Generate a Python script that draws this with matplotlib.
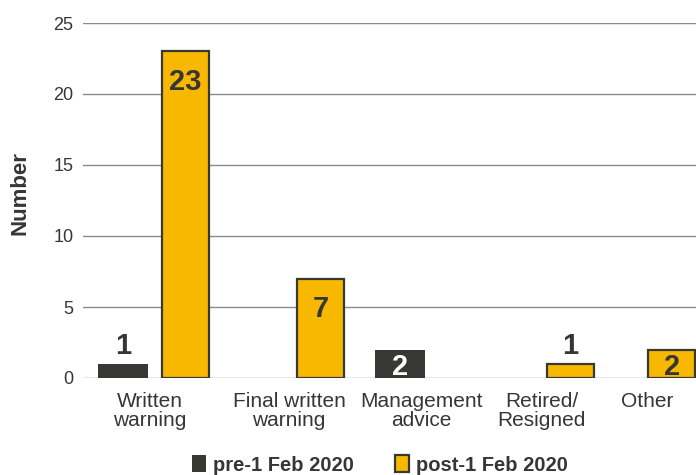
import matplotlib
matplotlib.use("Agg")
import matplotlib.pyplot as plt
from matplotlib.patches import Patch
from matplotlib import transforms

categories = ["Written\nwarning", "Final written\nwarning", "Management\nadvice",
              "Retired/\nResigned", "Other"]
series_names = ["pre-1 Feb 2020", "post-1 Feb 2020"]
pre_values = [1, 0, 2, 0, 0]
post_values = [23, 7, 0, 1, 2]
y_ticks = [0, 5, 10, 15, 20, 25]

# slot positions of the category groups along the x axis, and of their labels
slots = [0.0, 1.0, 2.05, 2.85, 3.6]
label_slots = [-0.03, 1.0, 1.98, 2.87, 3.65]

DARK = "#383834"
YELLOW = "#F9B800"
TEXT = "#363636"
GRID = "#8a8a8a"

plt.rcParams["font.family"] = ["Liberation Sans", "DejaVu Sans"]

fig = plt.figure(figsize=(6.96, 4.75), dpi=100)
# the plot area runs past the right edge of the figure
ax = fig.add_axes([83 / 696, 1 - 378 / 475, (720 - 83) / 696, (378 - 23) / 475])

offset = 0.232
width_pre = 0.37
width_post = 0.35

def label_bar(xc, v, dark_bar):
    color = "white" if dark_bar else TEXT
    if v >= 5:
        tr = transforms.offset_copy(ax.transData, fig=fig, y=-12, units="points")
        ax.text(xc, v, f"{v}", ha="center", va="top", fontsize=21, fontweight="bold",
                color=color, transform=tr, clip_on=False)
    elif v >= 2:
        ax.text(xc, v / 2, f"{v}", ha="center", va="center_baseline", fontsize=21,
                fontweight="bold", color=color, clip_on=False)
    else:
        tr = transforms.offset_copy(ax.transData, fig=fig, y=3, units="points")
        ax.text(xc, v, f"{v}", ha="center", va="bottom", fontsize=21, fontweight="bold",
                color=TEXT, transform=tr, clip_on=False)

for xi, v in zip(slots, pre_values):
    if v > 0:
        ax.bar(xi - offset, v, width_pre, color=DARK, edgecolor=DARK, linewidth=0,
               zorder=3)
        label_bar(xi - offset, v, True)

for xi, v in zip(slots, post_values):
    if v > 0:
        ax.bar(xi + offset, v, width_post, color=YELLOW, edgecolor=DARK, linewidth=1.6,
               zorder=3)
        label_bar(xi + offset, v, False)

ax.set_xlim(-0.526, 4.19)
ax.set_ylim(0, 25)
ax.set_yticks(y_ticks)
ax.set_yticklabels([str(t) for t in y_ticks], fontsize=13, color=TEXT)
ax.set_xticks(label_slots)
ax.set_xticklabels(categories, fontsize=15, color=TEXT, linespacing=1.0)
ax.tick_params(axis="both", length=0)
ax.tick_params(axis="y", pad=7)
ax.tick_params(axis="x", pad=10)
for s in ax.spines.values():
    s.set_visible(False)
ax.yaxis.grid(True, color=GRID, linewidth=1.0, zorder=0)
ax.set_axisbelow(True)

fig.text(20 / 696, 1 - 193 / 475, "Number", rotation=90, ha="center", va="center",
         fontsize=16, fontweight="bold", color=TEXT)

handles = [Patch(facecolor=DARK, edgecolor=DARK, linewidth=0),
           Patch(facecolor=YELLOW, edgecolor=DARK, linewidth=1.6)]
leg = fig.legend(handles, series_names, loc="center", bbox_to_anchor=(380 / 696, 1 - 465 / 475),
                 ncol=2, frameon=False, handlelength=0.7, handleheight=0.9,
                 handletextpad=0.35, columnspacing=2.0,
                 prop={"size": 14.5, "weight": "bold"})
for t in leg.get_texts():
    t.set_color(TEXT)

fig.savefig("out.png", dpi=100)
